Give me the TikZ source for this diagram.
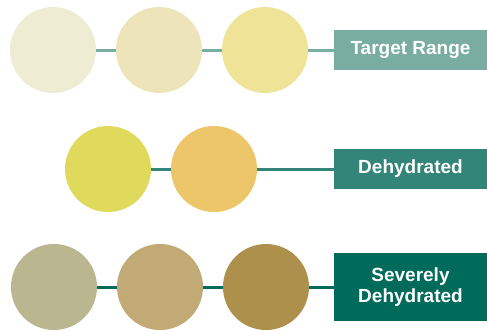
\documentclass[tikz,border=0pt]{standalone}
\usepackage{fontspec}
\setmainfont{Liberation Sans}
\usetikzlibrary{shapes}
\definecolor{tr_a}{RGB}{238, 237, 212}
\definecolor{tr_b}{RGB}{237, 229, 185}
\definecolor{tr_c}{RGB}{239, 227, 152}
\definecolor{tr_line}{RGB}{122, 173, 162}
\definecolor{dh_a}{RGB}{224, 218, 92}
\definecolor{dh_b}{RGB}{237, 198, 106}
\definecolor{dh_line}{RGB}{51, 133, 122}
\definecolor{sd_a}{RGB}{186, 182, 143}
\definecolor{sd_b}{RGB}{194, 170, 119}
\definecolor{sd_c}{RGB}{172, 144, 76}
\definecolor{sd_line}{RGB}{0, 107, 90}
\tikzstyle{dot}=[circle,inner sep=0pt,minimum size=86pt]
\tikzstyle{lab}=[rectangle,text=white,inner sep=0pt,minimum width=153pt,
  align=center,font=\bfseries\fontsize{19}{21}\selectfont]

\begin{document}
\begin{tikzpicture}[x=1pt,y=-1pt]
    \useasboundingbox (0, 0) rectangle (487, 330);
    % target range
    \node [style=dot,fill=tr_a] (t1) at (53, 50) {};
    \node [style=dot,fill=tr_b] (t2) at (159, 50) {};
    \node [style=dot,fill=tr_c] (t3) at (265, 50) {};
    \node [style=lab,fill=tr_line,minimum height=40pt] (t4) at (410.5, 50) {Target Range};
    \draw [tr_line,line width=3pt] (t1) to (t2);
    \draw [tr_line,line width=3pt] (t2) to (t3);
    \draw [tr_line,line width=3pt] (t3) to (t4);
    % dehydrated
    \node [style=dot,fill=dh_a] (d1) at (108, 169) {};
    \node [style=dot,fill=dh_b] (d2) at (214, 169) {};
    \node [style=lab,fill=dh_line,minimum height=40pt] (d3) at (410.5, 169) {Dehydrated};
    \draw [dh_line,line width=3pt] (d1) to (d2);
    \draw [dh_line,line width=3pt] (d2) to (d3);
    % severely dehydrated
    \node [style=dot,fill=sd_a] (s1) at (54, 287) {};
    \node [style=dot,fill=sd_b] (s2) at (160, 287) {};
    \node [style=dot,fill=sd_c] (s3) at (266, 287) {};
    \node [style=lab,fill=sd_line,minimum height=68pt] (s4) at (410.5, 287) {Severely\\Dehydrated};
    \draw [sd_line,line width=3pt] (s1) to (s2);
    \draw [sd_line,line width=3pt] (s2) to (s3);
    \draw [sd_line,line width=3pt] (s3) to (s4);
  \end{tikzpicture}
\end{document}
